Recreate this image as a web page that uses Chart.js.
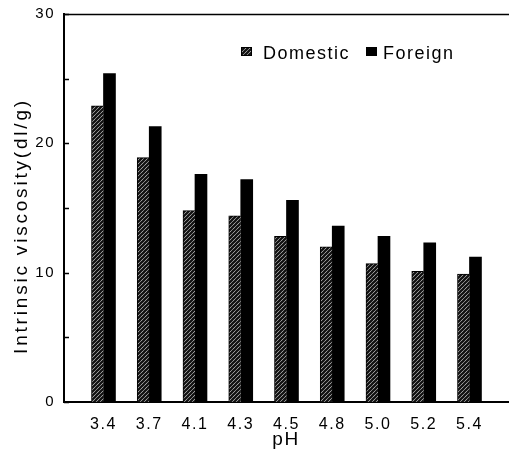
<!DOCTYPE html>
<html>
<head>
<meta charset="utf-8">
<script src="https://cdn.jsdelivr.net/npm/chart.js@4.4.1/dist/chart.umd.min.js"></script>
<style>
  html, body { margin: 0; padding: 0; background: #fff; }
  #wrap { width: 509px; height: 449px; }
</style>
</head>
<body>
<div id="wrap"><canvas id="c" width="509" height="449"></canvas></div>
<script>
// pH categories and intrinsic viscosity (dl/g) for the two sources
const categories = ['3.4', '3.7', '4.1', '4.3', '4.5', '4.8', '5.0', '5.2', '5.4'];
const domestic = [22.9, 18.9, 14.8, 14.4, 12.8, 12.0, 10.7, 10.1, 9.9];
const foreign  = [25.4, 21.3, 17.6, 17.2, 15.6, 13.6, 12.8, 12.3, 11.2];
const seriesNames = ['Domestic', 'Foreign'];
const yLabelled = [0, 10, 20, 30];
const yTitle = 'Intrinsic viscosity(dl/g)';
const xTitle = 'pH';

const FONT = '"Liberation Sans", Arial, Helvetica, sans-serif';

// diagonal hatch fill for the domestic bars
function hatchPattern() {
  const t = document.createElement('canvas');
  t.width = 4; t.height = 4;
  const g = t.getContext('2d');
  g.fillStyle = '#fff';
  g.fillRect(0, 0, 4, 4);
  g.strokeStyle = '#111';
  g.lineWidth = 2.3;
  g.beginPath();
  g.moveTo(-1, 5); g.lineTo(5, -1);
  g.moveTo(-1, 1); g.lineTo(1, -1);
  g.moveTo(3, 5); g.lineTo(5, 3);
  g.stroke();
  return g.createPattern(t, 'repeat');
}
const hatch = hatchPattern();

// x positions are category indices on a linear axis
const xMin = -0.863, xMax = 8.842;
const toPoints = vals => vals.map((v, i) => ({ x: i, y: v }));

// wider text spacing used for the axis text
const spacingPlugin = {
  id: 'textSpacing',
  beforeDraw(chart) { chart.ctx.letterSpacing = '1.5px'; }
};

// frame line along the top, and short inward tick marks on the y axis
const framePlugin = {
  id: 'frame',
  afterDraw(chart) {
    const ctx = chart.ctx;
    const area = chart.chartArea;
    const y = chart.scales.y;
    ctx.save();
    ctx.strokeStyle = '#000';
    ctx.lineWidth = 1.5;
    ctx.beginPath();
    ctx.moveTo(area.left, area.top + 0.5);
    ctx.lineTo(area.right + 1, area.top + 0.5);
    ctx.stroke();
    ctx.lineWidth = 1.3;
    ctx.beginPath();
    y.ticks.forEach(t => {
      const py = Math.round(y.getPixelForValue(t.value)) + 0.5;
      ctx.moveTo(area.left, py);
      ctx.lineTo(area.left + 5, py);
    });
    ctx.stroke();
    ctx.restore();
  }
};

// vertical y-axis title, centred a little below the middle of the axis
const yTitlePlugin = {
  id: 'yTitle',
  afterDraw(chart) {
    const ctx = chart.ctx;
    const area = chart.chartArea;
    ctx.save();
    ctx.font = '19px ' + FONT;
    ctx.letterSpacing = '2.8px';
    ctx.fillStyle = '#000';
    ctx.textAlign = 'center';
    ctx.textBaseline = 'middle';
    ctx.translate(22, (area.top + area.bottom) / 2 + 18);
    ctx.rotate(-Math.PI / 2);
    ctx.fillText(yTitle, 0, 0);
    ctx.restore();
  }
};

// legend drawn inside the plot area, top right
const insideLegend = {
  id: 'insideLegend',
  afterDraw(chart) {
    const ctx = chart.ctx;
    const area = chart.chartArea;
    ctx.save();
    ctx.font = '18px ' + FONT;
    ctx.letterSpacing = '1.5px';
    ctx.textBaseline = 'alphabetic';
    const baseY = area.top + 45;
    const boxX = [area.left + 177, area.left + 302];
    chart.data.datasets.forEach((ds, i) => {
      const x = boxX[i];
      ctx.fillStyle = ds.backgroundColor;
      ctx.fillRect(x, baseY - 12, 11, 9);
      ctx.strokeStyle = '#000';
      ctx.lineWidth = 1;
      ctx.strokeRect(x + 0.5, baseY - 11.5, 10, 8);
      ctx.fillStyle = '#000';
      ctx.fillText(ds.label, x + (i === 0 ? 22 : 17), baseY);
    });
    ctx.restore();
  }
};

new Chart(document.getElementById('c'), {
  type: 'bar',
  data: {
    datasets: [
      {
        label: seriesNames[0],
        data: toPoints(domestic),
        backgroundColor: hatch,
        borderColor: '#000',
        borderWidth: { left: 1, top: 1, right: 0, bottom: 0 },
        borderSkipped: 'bottom',
        barThickness: 12
      },
      {
        label: seriesNames[1],
        data: toPoints(foreign),
        backgroundColor: '#000',
        barThickness: 12
      }
    ]
  },
  options: {
    responsive: false,
    animation: false,
    events: [],
    layout: { autoPadding: false, padding: { left: 0, right: 1, top: 14, bottom: 0 } },
    plugins: {
      legend: { display: false },
      tooltip: { enabled: false }
    },
    scales: {
      x: {
        type: 'linear',
        position: 'bottom',
        min: xMin,
        max: xMax,
        offset: false,
        grid: { display: false, drawTicks: false },
        border: { display: true, color: '#000', width: 2 },
        afterBuildTicks: s => { s.ticks = categories.map((_, i) => ({ value: i })); },
        afterFit: s => { s.height = 47; s.paddingLeft = 0; s.paddingRight = 0; },
        ticks: {
          callback: v => categories[v],
          color: '#000',
          font: { family: FONT, size: 16 },
          padding: 13,
          autoSkip: false,
          maxRotation: 0
        },
        title: {
          display: true,
          text: xTitle,
          color: '#000',
          font: { family: FONT, size: 19, lineHeight: 1 },
          padding: { top: 0, bottom: 0 }
        }
      },
      y: {
        min: 0,
        max: 30,
        afterFit: s => { s.width = 64; s.paddingTop = 0; s.paddingBottom = 0; },
        grid: { display: false, drawTicks: false },
        border: { display: true, color: '#000', width: 2 },
        ticks: {
          stepSize: 5,
          callback: v => (yLabelled.includes(v) ? String(v) : ''),
          color: '#000',
          font: { family: FONT, size: 15 },
          padding: 9
        },
        title: { display: false }
      }
    }
  },
  plugins: [spacingPlugin, framePlugin, yTitlePlugin, insideLegend]
});
</script>
</body>
</html>
